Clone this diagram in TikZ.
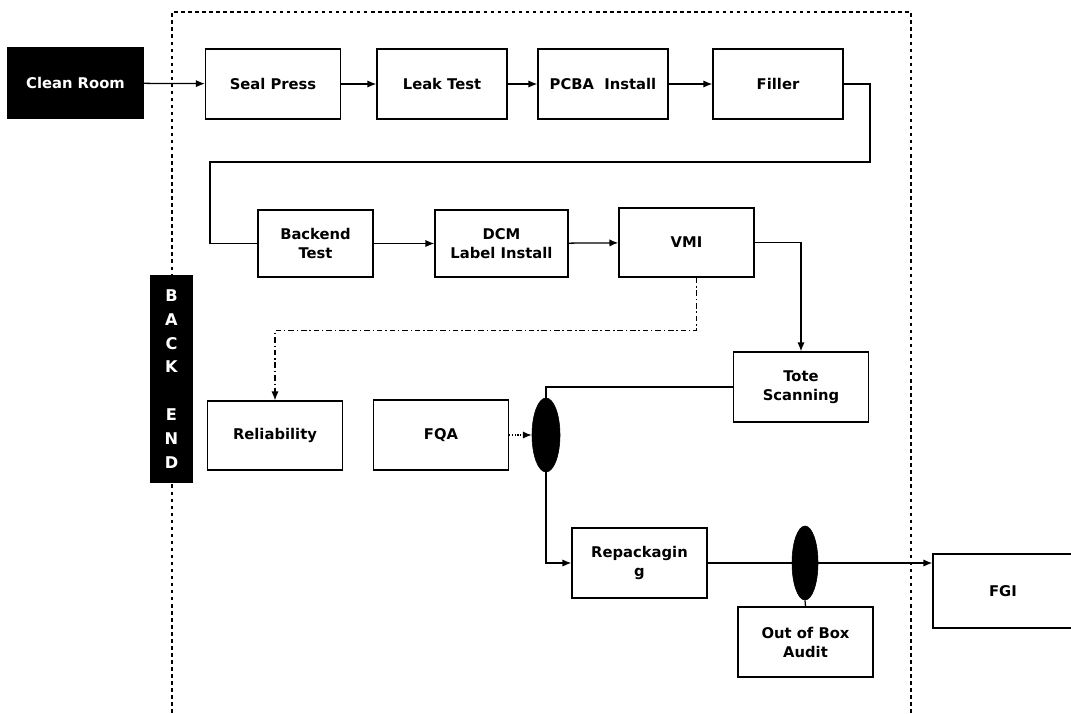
\documentclass[tikz,border=0pt]{standalone}
\usepackage{fontspec}
\setmainfont{DejaVu Sans}
\usetikzlibrary{shapes.geometric,arrows.meta}
\tikzset{
	stage/.style={draw, line width=1pt, fill=white, align=center, inner sep=1pt,
		font=\bfseries\fontsize{10.5}{13.5}\selectfont,
		minimum width=3.375cm, minimum height=1.75cm},
	darkstage/.style={stage, fill=black, text=white},
	gate/.style={ellipse, draw, fill=black, inner sep=0pt, minimum width=0.7cm, minimum height=1.85cm},
	wire/.style={line width=0.9pt},
	flow/.style={wire, -{Latex[length=2.2mm, width=1.8mm]}},
}

\begin{document}
\begin{tikzpicture}[x=0.025cm, y=-0.025cm]
		%%%%% START %%%%%
		\useasboundingbox (0, 0) rectangle (1071, 713);
		
		\draw[line width=1pt, dash pattern=on 2.5pt off 2.5pt] (172, 720) -- (172, 12) -- (911, 12) -- (911, 720);
		
		\node[darkstage] (clean) at (75.5, 83) {Clean Room};
		\node[stage] (seal) at (273, 84) {Seal Press};
		\node[stage, minimum width=3.25cm] (leak) at (442, 84) {Leak Test};
		\node[stage, minimum width=3.25cm] (pcba) at (603, 84) {PCBA\ \ Install};
		\node[stage, minimum width=3.25cm] (filler) at (778, 84) {Filler};
		
		\node[stage, minimum width=2.875cm, minimum height=1.675cm] (backend) at (315.5, 243.5) {Backend\\Test};
		\node[stage, minimum width=3.325cm, minimum height=1.675cm] (dcm) at (501.5, 243.5) {DCM\\Label Install};
		\node[stage, minimum height=1.725cm] (vmi) at (686.5, 242.5) {VMI};
		\node[stage] (tote) at (801, 387) {Tote\\Scanning};
		
		\node[stage, minimum height=1.725cm] (rel) at (275, 435.5) {Reliability};
		\node[stage] (fqa) at (441, 435) {FQA};
		\node[gate] (g1) at (546, 435) {};
		
		\node[stage] (repack) at (639.5, 563) {Repackagin\\g};
		\node[gate, minimum width=0.65cm] (g2) at (805, 563) {};
		\node[stage] (audit) at (805.5, 642) {Out of Box\\Audit};
		\node[stage, minimum width=3.5cm, minimum height=1.85cm] (fgi) at (1003, 591) {FGI};
		
		% top row
		\draw[flow] (clean) -- (seal);
		\draw[flow] (seal) -- (leak);
		\draw[flow] (leak) -- (pcba);
		\draw[flow] (pcba) -- (filler);
		
		\coordinate (turnR) at (870, 162);
		\coordinate (turnL) at (210, 162);
		\draw[wire] (filler.east) -| (turnR) -- (turnL) |- (backend.west);
		
		% back end
		\draw[flow] (backend) -- (dcm);
		\draw[flow] (dcm) -- (vmi);
		\draw[flow] (vmi.east) -| (tote.north);
		\draw[flow, dash pattern=on 4pt off 2pt on 1pt off 2pt] ([xshift=0.25cm]vmi.south) -- ++(0, 53) -| (rel.north);
		\draw[wire] (tote.west) -| (g1.north);
		\draw[flow, densely dotted] (fqa.east) -- (g1.west);
		\draw[flow] (g1.south) |- (repack.west);
		
		\draw[flow] (repack.east) -- (repack.east -| fgi.west);
		\draw[wire] (g2.south) -- (audit.north);
		
		\node[fill=black, text=white, align=center, minimum width=1.075cm, minimum height=5.2cm, inner sep=0pt,
			font=\bfseries\fontsize{11.5}{17}\selectfont] (backlabel) at (171.5, 379) {B\\A\\C\\K\\[17pt]E\\N\\D};
		%%%%% END %%%%%
	\end{tikzpicture}
\end{document}
